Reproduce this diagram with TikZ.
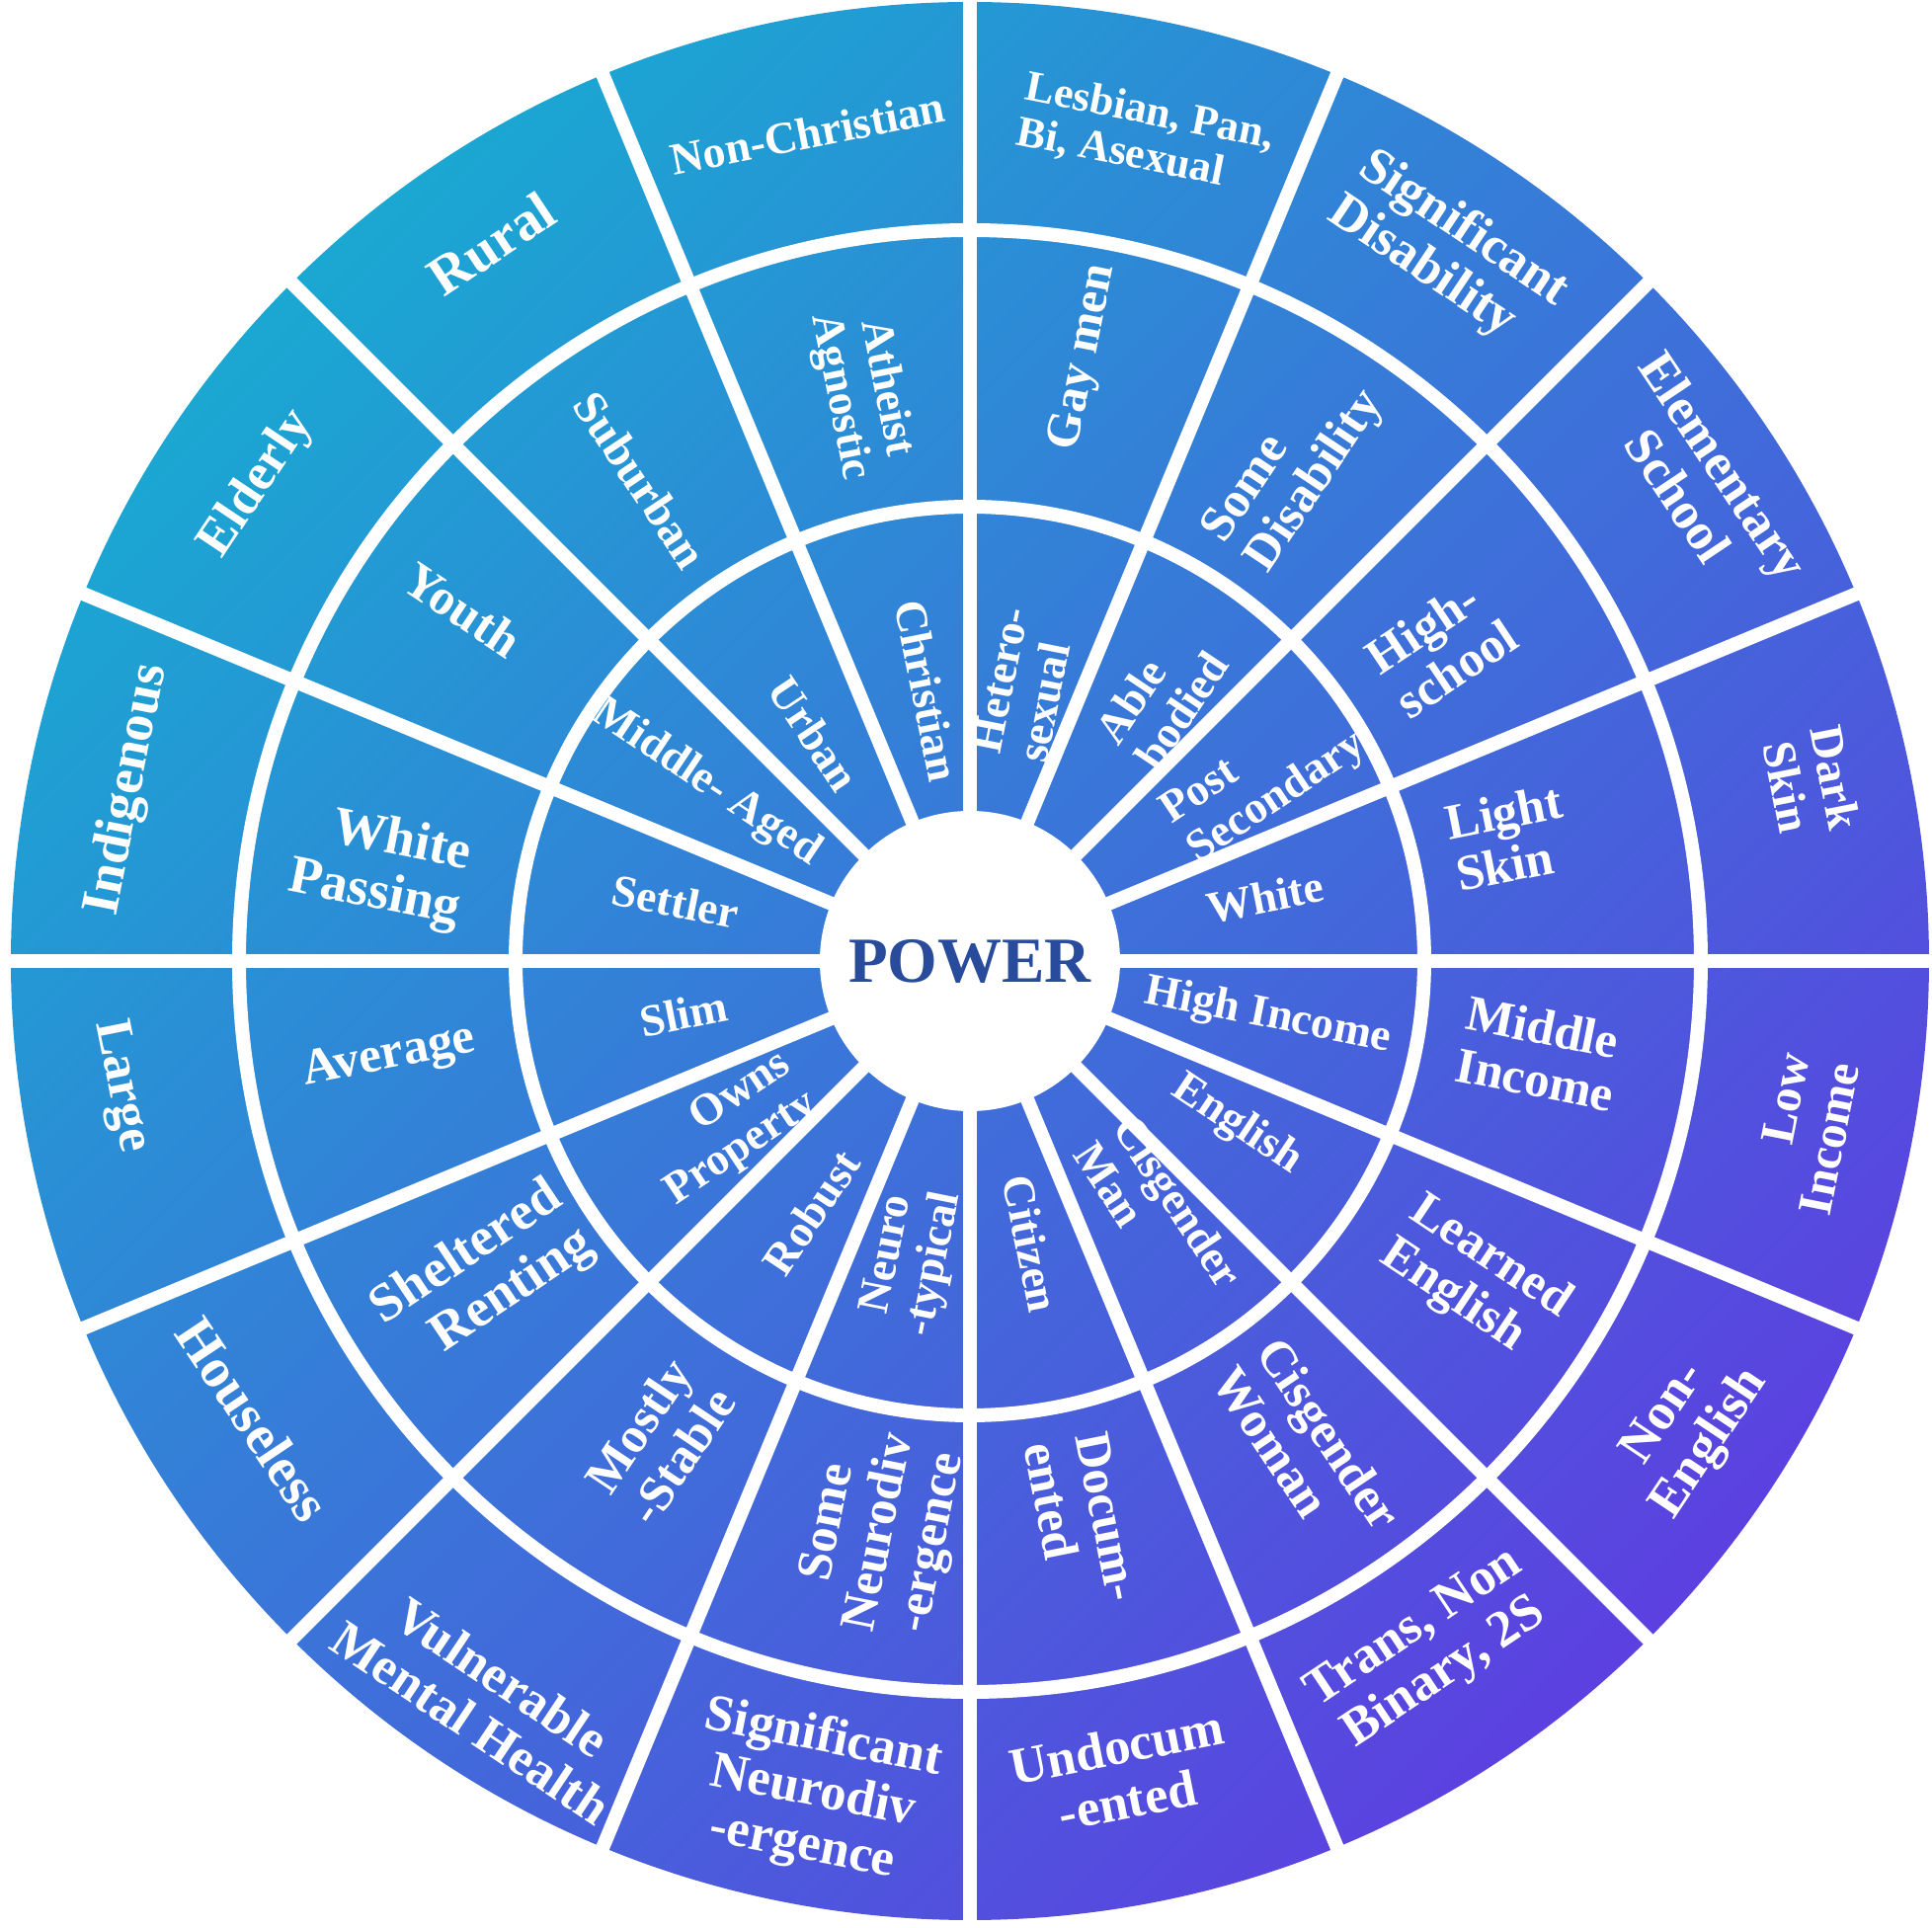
\documentclass[tikz,border=0pt]{standalone}
\usepackage{fontspec}
\setmainfont{Liberation Serif}
\usepackage{tikz}
\definecolor{wheeltl}{RGB}{26,168,210}
\definecolor{wheelbr}{RGB}{92,64,224}
\definecolor{powerblue}{RGB}{40,76,155}
\newcommand{\lblfont}[1]{\bfseries\fontsize{#1}{1.05\dimexpr#1pt\relax}\selectfont}

\begin{document}
\begin{tikzpicture}[
  lbl/.style={text=white,inner sep=0pt,align=center,font=\lblfont{15}},
  lblin/.style={lbl,font=\lblfont{13}},
  lblmid/.style={lbl,font=\lblfont{14.5}},
  gap/.style={white,line width=0.14cm}]
\useasboundingbox (-9.82,-9.79) rectangle (9.74,9.73);
\begin{scope}[transform canvas={rotate=-45}]
  \clip (0,0) circle (9.71);
  \shade[left color=wheeltl,right color=wheelbr] (-9.71,-9.71) rectangle (9.71,9.71);
\end{scope}
\foreach \a in {0,22.5,...,337.5}
  \draw[gap] (0,0) -- (\a:9.8);
\draw[gap] (0,0) circle (4.60);
\draw[gap] (0,0) circle (7.40);
\node (power) at (0,0) [circle,fill=white,minimum size=3.04cm,inner sep=0pt,text=powerblue,font=\lblfont{18.5}] {POWER};

  \node (christian) at (99:2.77) [lblin,rotate=-78.75] {Christian};
  \node (urban) at (124.5:2.79) [lblin,rotate=-56.25] {Urban};
  \node (middleaged) at (146:3.22) [lblin,rotate=-33.75] {Middle- Aged};
  \node (settler) at (168.6:3.04) [lblin,rotate=-11.25] {Settler};
  \node (hetero) at (79:2.85) [lblin,rotate=78.75,align=left] {Hetero-\\sexual};
  \node (able) at (54:3.30) [lblin,rotate=56.25,align=left] {Able\\bodied};
  \node (postsec) at (31.7:3.50) [lblin,rotate=33.75,align=left] {Post\\Secondary};
  \node (white) at (12.2:3.06) [lblin,rotate=11.25] {White};
  \node (highinc) at (-10.6:3.07) [lblin,rotate=-11.25] {High Income};
  \node (english) at (-31.6:3.17) [lblin,rotate=-33.75] {English};
  \node (cisman) at (-53.3:3.20) [lblin,rotate=-56.25,align=left] {Cisgender\\Man};
  \node (citizen) at (-77.8:2.93) [lblin,rotate=-78.75] {Citizen};
  \node (neurotyp) at (259:3.08) [lblin,rotate=78.75] {Neuro\\-typical};
  \node (robust) at (237.8:3.01) [lblin,rotate=56.25] {Robust};
  \node (owns) at (214.9:2.98) [lblin,rotate=33.75,align=right] {Owns\\Property};
  \node (slim) at (190.4:2.95) [lblin,rotate=11.25] {Slim};

  \node (atheist) at (100.7:5.86) [lblmid,rotate=-78.75,font=\lblfont{13}] {Atheist\\Agnostic};
  \node (suburban) at (124.4:5.90) [lblmid,rotate=-56.25,font=\lblfont{13.5}] {Suburban};
  \node (youth) at (145.3:6.25) [lblmid,rotate=-33.75] {Youth};
  \node (whitepass) at (171:6.05) [lblmid,rotate=-11.25,align=right,font=\lblfont{15.5}] {White\\Passing};
  \node (average) at (189.4:5.96) [lblmid,rotate=11.25] {Average};
  \node (sheltered) at (213:5.88) [lblmid,rotate=33.75,align=right,font=\lblfont{15.5}] {Sheltered\\Renting};
  \node (mostly) at (237.1:5.79) [lblmid,rotate=56.25,align=right] {Mostly\\-Stable};
  \node (someneuro) at (261.2:5.86) [lblmid,rotate=78.75] {Some\\Neurodiv\\-ergence};
  \node (docum) at (-78.7:5.79) [lblmid,rotate=-78.75,align=left] {Docum-\\ented};
  \node (ciswoman) at (-55.3:6.00) [lblmid,rotate=-56.25,align=left] {Cisgender\\Woman};
  \node (learned) at (-32.2:6.05) [lblmid,rotate=-33.75,align=left] {Learned\\English};
  \node (midinc) at (-9.2:5.85) [lblmid,rotate=-11.25,align=left] {Middle\\Income};
  \node (lightskin) at (12.9:5.60) [lblmid,rotate=11.25,align=left] {Light\\Skin};
  \node (highschool) at (33.7:5.74) [lblmid,rotate=33.75,align=left] {High-\\school};
  \node (somedis) at (56.7:5.98) [lblmid,rotate=56.25,align=left] {Some\\Disability};
  \node (gaymen) at (79.3:6.22) [lblmid,rotate=78.75,font=\lblfont{14}] {Gay men};

  \node (nonchr) at (101.1:8.54) [lbl,rotate=11.25,font=\lblfont{13}] {Non-Christian};
  \node (rural) at (123.7:8.73) [lbl,rotate=33.75,font=\lblfont{16}] {Rural};
  \node (elderly) at (146.2:8.68) [lbl,rotate=56.25] {Elderly};
  \node (indig) at (168.5:8.70) [lbl,rotate=78.75,font=\lblfont{15.5}] {Indigenous};
  \node (large) at (188.4:8.69) [lbl,rotate=-78.75] {Large};
  \node (houseless) at (212.6:8.61) [lbl,rotate=-56.25,font=\lblfont{16}] {Houseless};
  \node (vulner) at (236.8:8.94) [lbl,rotate=-33.75] {Vulnerable\\Mental Health};
  \node (signeuro) at (259.3:8.57) [lbl,rotate=-11.25] {Significant\\Neurodiv\\-ergence};
  \node (undoc) at (-79.4:8.37) [lbl,rotate=11.25] {Undocum\\-ented};
  \node (trans) at (-56.3:8.40) [lbl,rotate=33.75] {Trans, Non\\Binary, 2S};
  \node (nonenglish) at (-33.1:8.68) [lbl,rotate=56.25] {Non-\\English};
  \node (lowinc) at (-11.7:8.63) [lbl,rotate=78.75,align=right,font=\lblfont{14}] {Low\\Income};
  \node (darkskin) at (12:8.71) [lbl,rotate=-78.75,font=\lblfont{13.5}] {Dark\\Skin};
  \node (elem) at (33.3:8.86) [lbl,rotate=-56.25] {Elementary\\School};
  \node (sigdis) at (56:8.66) [lbl,rotate=-33.75,align=left] {Significant\\Disability};
  \node (lesbian) at (78:8.55) [lbl,rotate=-11.25,align=left,font=\lblfont{12.5}] {Lesbian, Pan,\\Bi, Asexual};
\end{tikzpicture}
\end{document}
